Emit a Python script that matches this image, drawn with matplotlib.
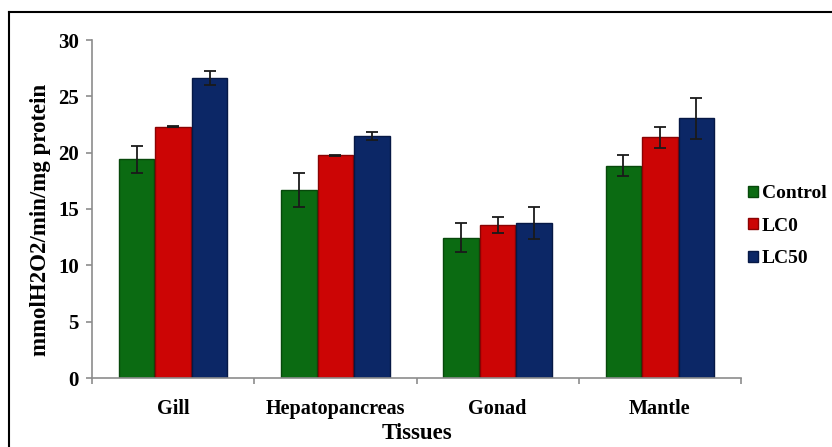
import numpy as np
import matplotlib
matplotlib.use("Agg")
import matplotlib.pyplot as plt
from matplotlib.lines import Line2D

tissues = ["Gill", "Hepatopancreas", "Gonad", "Mantle"]
groups = ["Control", "LC0", "LC50"]

control = [19.4, 16.7, 12.45, 18.85]
control_err = [1.2, 1.5, 1.3, 0.9]
lc0 = [22.3, 19.75, 13.55, 21.35]
lc0_err = [0.05, 0.05, 0.7, 0.9]
lc50 = [26.65, 21.45, 13.75, 23.05]
lc50_err = [0.6, 0.35, 1.4, 1.8]

values = [control, lc0, lc50]
errors = [control_err, lc0_err, lc50_err]
colors = ["#0b6b12", "#cc0505", "#0c2766"]
edges = ["#07480b", "#8a0303", "#061845"]

plt.rcParams["font.family"] = ["Liberation Serif", "DejaVu Serif"]
plt.rcParams["font.weight"] = "bold"

fig = plt.figure(figsize=(8.32, 4.47), dpi=100)
ax = fig.add_axes([92 / 832, 1 - 378 / 447, 649 / 832, 338 / 447])

x = np.arange(len(tissues))
width = 0.22
offsets = [-0.225, 0.0, 0.225]
for vals, errs, col, edg, off, name in zip(values, errors, colors, edges, offsets, groups):
    ax.bar(x + off, vals, width, yerr=errs, color=col, edgecolor=edg, linewidth=1.0,
           label=name, error_kw=dict(ecolor="#1a1a1a", elinewidth=1.3, capsize=4, capthick=1.3))

ax.set_xlim(-0.5, len(tissues) - 0.5)
ax.set_ylim(0, 30)
ax.set_yticks(range(0, 31, 5))
ax.set_xticks(x)
ax.set_xticklabels(tissues)
ax.set_xticks(np.arange(-0.5, len(tissues), 1.0), minor=True)

for s in ["top", "right"]:
    ax.spines[s].set_visible(False)
for s in ["left", "bottom"]:
    ax.spines[s].set_color("#8c8c8c")
    ax.spines[s].set_linewidth(1.2)

ax.tick_params(axis="y", length=4.5, width=1.2, color="#8c8c8c", pad=5, labelsize=15)
ax.tick_params(axis="x", which="major", length=0, pad=15, labelsize=14.5)
ax.tick_params(axis="x", which="minor", length=4.5, width=1.2, color="#8c8c8c")

ax.set_xlabel("Tissues", fontsize=16.5, fontweight="bold", labelpad=3)
ax.set_ylabel("mmolH2O2/min/mg protein", fontsize=16.5, fontweight="bold")
ax.yaxis.set_label_coords(-0.063, 0.467)

fig.legend(loc="center left", bbox_to_anchor=(0.899, 0.494), frameon=False,
           handlelength=0.5, handleheight=0.5, handletextpad=0.2,
           labelspacing=0.8, borderpad=0, borderaxespad=0,
           prop={"weight": "bold", "size": 14})

# partial frame around the figure (top and left only)
fig.add_artist(Line2D([9 / 832, 1.0], [1 - 12 / 447, 1 - 12 / 447], color="black", lw=1.5))
fig.add_artist(Line2D([9 / 832, 9 / 832], [0.0, 1 - 12 / 447], color="black", lw=1.5))

fig.savefig("out.png", dpi=100)
